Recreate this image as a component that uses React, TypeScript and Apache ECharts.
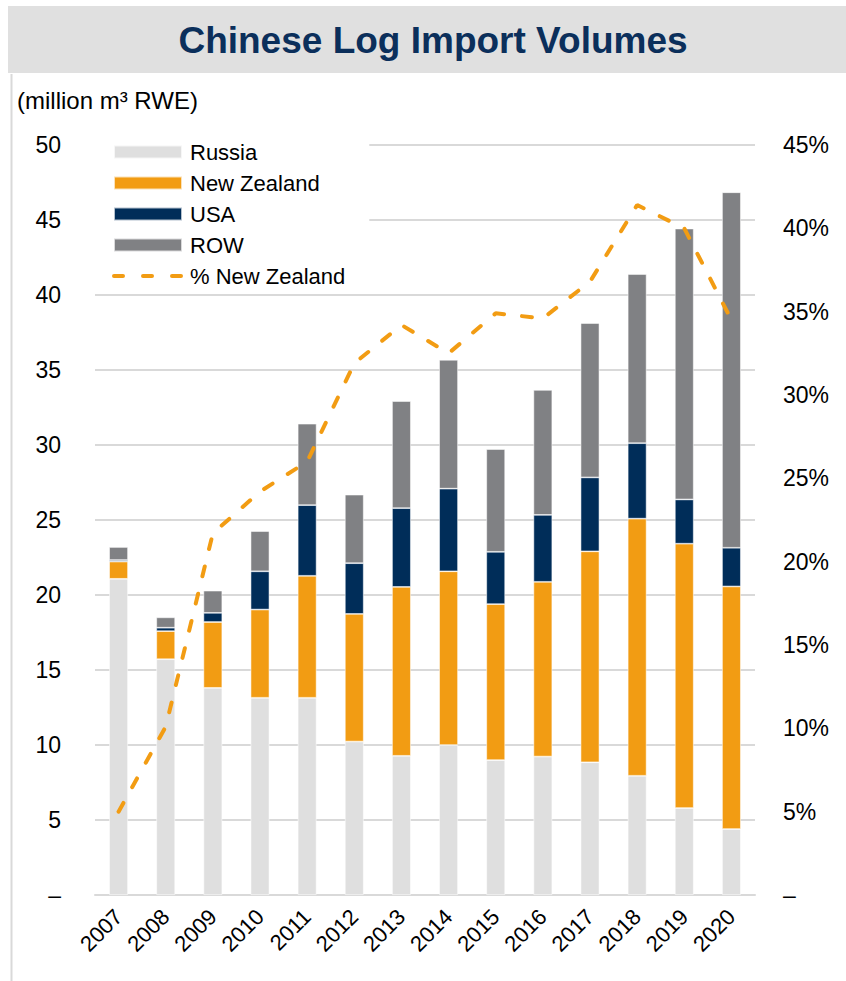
import React, { useEffect, useRef } from 'react';
import * as echarts from 'echarts';

const years = ['2007', '2008', '2009', '2010', '2011', '2012', '2013', '2014', '2015', '2016', '2017', '2018', '2019', '2020'];
const russia = [21.08, 15.72, 13.81, 13.15, 13.15, 10.23, 9.28, 10.0, 8.99, 9.23, 8.85, 7.95, 5.8, 4.4];
const newZealand = [1.15, 1.87, 4.39, 5.88, 8.13, 8.51, 11.26, 11.58, 10.4, 11.65, 14.06, 17.14, 17.62, 16.17];
const usa = [0.1, 0.23, 0.61, 2.55, 4.71, 3.38, 5.25, 5.51, 3.49, 4.46, 4.93, 5.03, 2.95, 2.58];
const row = [0.87, 0.69, 1.48, 2.68, 5.43, 4.57, 7.14, 8.59, 6.85, 8.33, 10.29, 11.28, 18.06, 23.7];
const pctNewZealand = [5.0, 10.1, 21.7, 24.2, 26.0, 31.9, 34.2, 32.5, 34.9, 34.6, 36.8, 41.4, 40.0, 34.5];

const FONT = '"Liberation Sans", Arial, Helvetica, sans-serif';
const C_RUSSIA = '#dfdfdf';
const C_NZ = '#f29c13';
const C_USA = '#002d59';
const C_ROW = '#808184';
const GRID = '#d9d9d9';

export default function App() {
  const ref = useRef<HTMLDivElement>(null);
  useEffect(() => {
    if (!ref.current) return;
    const chart = echarts.init(ref.current, null, { renderer: 'svg' });
    const barCommon = {
      type: 'bar',
      stack: 'total',
      barWidth: '40%',
      yAxisIndex: 0,
    };
    const border = { borderColor: 'rgba(255,255,255,0.7)', borderWidth: 0.75 };
    chart.setOption({
      animation: false,
      textStyle: { fontFamily: FONT },
      graphic: [
        { type: 'rect', shape: { x: 8, y: 6, width: 838, height: 67 }, style: { fill: '#e0e0e0' }, z: -1 },
        {
          type: 'text', x: 433, y: 40,
          style: { text: 'Chinese Log Import Volumes', font: `bold 37px ${FONT}`, fill: '#0b2f5b', textAlign: 'center', textVerticalAlign: 'middle' },
        },
        {
          type: 'text', x: 17, y: 100,
          style: { text: '(million m³ RWE)', font: `24px ${FONT}`, fill: '#000', textAlign: 'left', textVerticalAlign: 'middle' },
        },
        { type: 'line', shape: { x1: 11.5, y1: 74, x2: 11.5, y2: 981 }, style: { stroke: GRID, lineWidth: 2 } },
      ],
      grid: { left: 95, right: 91, top: 145, bottom: 86, containLabel: false },
      legend: {
        orient: 'vertical',
        left: 95,
        top: 133,
        padding: [8, 24, 6, 17],
        backgroundColor: '#ffffff',
        itemWidth: 68,
        itemHeight: 13,
        itemGap: 9,
        textStyle: { fontSize: 22, color: '#000', fontFamily: FONT, padding: [0, 0, 0, 3] },
        data: [
          { name: 'Russia', icon: 'rect' },
          { name: 'New Zealand', icon: 'rect' },
          { name: 'USA', icon: 'rect' },
          { name: 'ROW', icon: 'rect' },
          {
            name: '% New Zealand',
            itemStyle: { opacity: 0 },
            lineStyle: { width: 4, type: [9, 20], cap: 'round', color: C_NZ },
          },
        ],
      },
      xAxis: {
        type: 'category',
        data: years,
        axisTick: { show: false },
        axisLine: { show: true, lineStyle: { color: GRID, width: 2 } },
        axisLabel: { rotate: 45, margin: 18, fontSize: 22, color: '#000', fontFamily: FONT, interval: 0 },
      },
      yAxis: [
        {
          type: 'value', min: 0, max: 50, interval: 5,
          axisLine: { show: false }, axisTick: { show: false },
          splitLine: { show: true, lineStyle: { color: GRID, width: 2 } },
          axisLabel: { margin: 34, fontSize: 23, color: '#000', fontFamily: FONT, formatter: (v: number) => (v === 0 ? '–' : String(v)) },
        },
        {
          type: 'value', min: 0, max: 45, interval: 5, position: 'right',
          axisLine: { show: false }, axisTick: { show: false }, splitLine: { show: false },
          axisLabel: { margin: 28, fontSize: 23, color: '#000', fontFamily: FONT, formatter: (v: number) => (v === 0 ? '–' : `${v}%`) },
        },
      ],
      series: [
        { ...barCommon, name: 'Russia', data: russia, itemStyle: { color: C_RUSSIA, ...border } },
        { ...barCommon, name: 'New Zealand', data: newZealand, itemStyle: { color: C_NZ, ...border } },
        { ...barCommon, name: 'USA', data: usa, itemStyle: { color: C_USA, ...border } },
        { ...barCommon, name: 'ROW', data: row, itemStyle: { color: C_ROW, ...border } },
        {
          type: 'line', name: '% New Zealand', yAxisIndex: 1, data: pctNewZealand,
          symbol: 'none', smooth: false, z: 5,
          itemStyle: { color: C_NZ },
          lineStyle: { color: C_NZ, width: 4, type: [10, 18], cap: 'round' },
        },
      ],
    });
    return () => chart.dispose();
  }, []);
  return <div ref={ref} style={{ position: 'fixed', left: 0, top: 0, width: 846, height: 981, background: '#fff' }} />;
}
